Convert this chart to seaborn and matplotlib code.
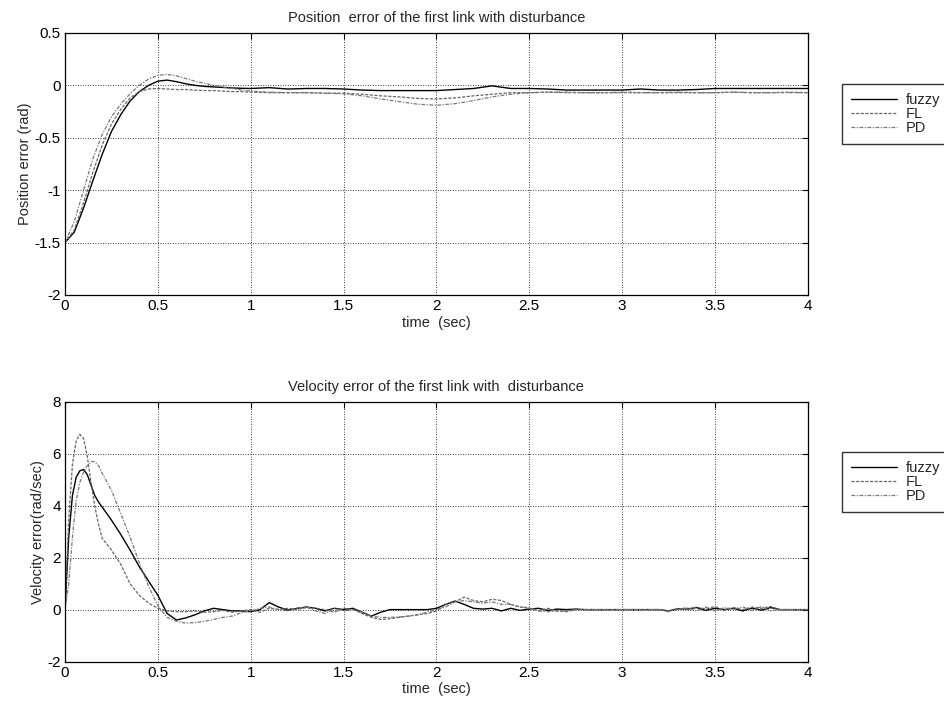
import numpy as np
import pandas as pd
import seaborn as sns
from matplotlib import pyplot as plt

# данные: ошибка положения (верхний график)
t_pos = [0.0, 0.05, 0.1, 0.15, 0.2, 0.25, 0.3, 0.35, 0.4, 0.45, 0.5, 0.55, 0.6, 0.65, 0.7,
         0.75, 0.8, 0.85, 0.9, 0.95, 1.0, 1.1, 1.2, 1.3, 1.4, 1.5, 1.6, 1.7, 1.8, 1.9, 2.0,
         2.1, 2.2, 2.3, 2.4, 2.5, 2.6, 2.7, 2.8, 2.9, 3.0, 3.1, 3.2, 3.3, 3.4, 3.5, 3.6, 3.7,
         3.8, 3.9, 4.0]
pos_fuzzy = [-1.5, -1.4, -1.17, -0.91, -0.66, -0.44, -0.28, -0.15, -0.06, 0.0, 0.04, 0.05,
             0.035, 0.015, 0.0, -0.01, -0.015, -0.02, -0.025, -0.028, -0.03, -0.022, -0.035,
             -0.03, -0.03, -0.035, -0.045, -0.05, -0.05, -0.05, -0.05, -0.04, -0.03, -0.005,
             -0.03, -0.03, -0.035, -0.045, -0.045, -0.045, -0.045, -0.035, -0.045, -0.045,
             -0.04, -0.03, -0.03, -0.03, -0.03, -0.03, -0.03]
pos_fl = [-1.5, -1.38, -1.12, -0.83, -0.57, -0.37, -0.23, -0.12, -0.06, -0.035, -0.03, -0.035,
          -0.04, -0.04, -0.045, -0.05, -0.05, -0.055, -0.06, -0.06, -0.065, -0.07, -0.07,
          -0.07, -0.075, -0.075, -0.085, -0.1, -0.11, -0.125, -0.13, -0.12, -0.1, -0.085,
          -0.07, -0.07, -0.065, -0.07, -0.07, -0.07, -0.07, -0.07, -0.07, -0.07, -0.07,
          -0.07, -0.065, -0.07, -0.07, -0.065, -0.07]
pos_pd = [-1.5, -1.3, -1.0, -0.7, -0.47, -0.3, -0.18, -0.08, 0.0, 0.06, 0.095, 0.105,
          0.09, 0.065, 0.04, 0.02, 0.0, -0.015, -0.03, -0.045, -0.055, -0.065, -0.07, -0.07,
          -0.075, -0.08, -0.1, -0.13, -0.155, -0.18, -0.19, -0.175, -0.145, -0.11, -0.085,
          -0.07, -0.065, -0.065, -0.07, -0.07, -0.065, -0.07, -0.07, -0.065, -0.07, -0.07,
          -0.065, -0.07, -0.07, -0.07, -0.07]

# данные: ошибка скорости (нижний график)
t_vel = [0.0, 0.02, 0.04, 0.06, 0.08, 0.1, 0.12, 0.14, 0.16, 0.18, 0.2, 0.25, 0.3, 0.35,
         0.4, 0.45, 0.5, 0.55, 0.6, 0.65, 0.7, 0.75, 0.8, 0.85, 0.9, 0.95, 1.0, 1.05, 1.1,
         1.15, 1.2, 1.25, 1.3, 1.35, 1.4, 1.45, 1.5, 1.55, 1.6, 1.65, 1.7, 1.75, 1.8, 1.85,
         1.9, 1.95, 2.0, 2.05, 2.1, 2.15, 2.2, 2.25, 2.3, 2.35, 2.4, 2.45, 2.5, 2.55, 2.6,
         2.65, 2.7, 2.75, 2.8, 2.85, 2.9, 2.95, 3.0, 3.05, 3.1, 3.15, 3.2, 3.25, 3.3, 3.35,
         3.4, 3.45, 3.5, 3.55, 3.6, 3.65, 3.7, 3.75, 3.8, 3.85, 3.9, 3.95, 4.0]
vel_fuzzy = [0.0, 2.8, 4.4, 5.1, 5.35, 5.4, 5.2, 4.8, 4.4, 4.15, 3.95, 3.45, 2.9, 2.3, 1.65,
             1.1, 0.55, -0.15, -0.4, -0.32, -0.2, -0.05, 0.05, 0.0, -0.05, -0.05, -0.08,
             0.0, 0.27, 0.1, -0.02, 0.05, 0.1, 0.05, -0.05, 0.05, 0.0, 0.05, -0.1, -0.25,
             -0.1, 0.0, 0.0, 0.0, 0.0, 0.0, 0.05, 0.2, 0.33, 0.2, 0.05, 0.02, 0.05, -0.05,
             0.05, -0.03, 0.02, 0.05, -0.03, 0.02, 0.0, 0.02, 0.0, 0.0, 0.0, 0.0, 0.0, 0.0,
             0.0, 0.0, 0.0, -0.05, 0.03, 0.02, 0.08, -0.03, 0.05, 0.0, 0.05, -0.05, 0.06,
             -0.02, 0.08, 0.0, 0.0, 0.0, 0.0]
vel_fl = [0.0, 3.5, 5.6, 6.5, 6.75, 6.6, 5.9, 4.9, 4.0, 3.3, 2.75, 2.3, 1.75, 1.0, 0.55,
          0.25, 0.05, -0.05, -0.08, -0.08, -0.05, -0.1, -0.08, -0.03, -0.1, -0.05, 0.0,
          -0.1, 0.05, 0.0, 0.05, 0.0, 0.08, 0.05, 0.0, -0.1, 0.05, 0.0, -0.15, -0.3, -0.38,
          -0.35, -0.3, -0.25, -0.2, -0.15, -0.05, 0.2, 0.3, 0.48, 0.35, 0.3, 0.4, 0.35, 0.2,
          0.1, 0.05, -0.05, 0.05, -0.05, -0.08, 0.0, 0.0, 0.0, 0.0, 0.0, 0.0, 0.0, 0.0, 0.0,
          0.0, -0.08, 0.05, 0.0, 0.1, 0.02, 0.12, -0.02, 0.08, 0.0, 0.1, 0.05, 0.12, 0.0,
          0.0, 0.0, 0.0]
vel_pd = [0.0, 1.0, 2.8, 4.2, 4.9, 5.3, 5.55, 5.7, 5.7, 5.55, 5.25, 4.6, 3.7, 2.8, 1.8,
          0.9, 0.15, -0.3, -0.45, -0.52, -0.5, -0.45, -0.38, -0.3, -0.25, -0.12, -0.05,
          0.05, 0.1, 0.0, -0.05, 0.05, 0.1, -0.05, -0.15, 0.05, -0.05, 0.0, -0.1, -0.25,
          -0.3, -0.3, -0.28, -0.25, -0.2, -0.1, 0.0, 0.1, 0.3, 0.35, 0.3, 0.25, 0.3, 0.2,
          0.2, 0.1, 0.08, -0.05, -0.08, -0.05, -0.05, 0.0, 0.0, 0.0, 0.0, 0.0, 0.0, 0.0,
          0.0, 0.0, 0.0, -0.05, 0.0, 0.08, -0.05, 0.1, -0.05, 0.08, 0.02, 0.1, -0.03, 0.12,
          -0.05, 0.0, 0.0, 0.0, 0.0]

labels = ['fuzzy', 'FL', 'PD']

sns.set_style('white')
plt.rcParams['font.family'] = ['Liberation Sans', 'DejaVu Sans']
plt.rcParams['axes.unicode_minus'] = False

fig = plt.figure(figsize=(9.45, 7.13), dpi=100)
ax1 = fig.add_axes([0.0688, 0.5863, 0.786, 0.3675])
ax2 = fig.add_axes([0.0688, 0.0722, 0.786, 0.364])

line_kw = [dict(color='black', linestyle='-', linewidth=1.0),
           dict(color='#666666', linestyle=(0, (2.5, 1.2)), linewidth=0.9),
           dict(color='#777777', linestyle=(0, (3, 1.2, 1, 1.2)), linewidth=0.9)]


def draw(ax, t, series, ylim, yticks, title, ylabel, leg_top):
    for y, lab, kw in zip(series, labels, line_kw):
        sns.lineplot(x=t, y=y, ax=ax, label=lab, **kw)
    ax.set_xlim(0, 4)
    ax.set_ylim(*ylim)
    ax.set_xticks([0, 0.5, 1, 1.5, 2, 2.5, 3, 3.5, 4])
    ax.set_xticklabels(['0', '0.5', '1', '1.5', '2', '2.5', '3', '3.5', '4'])
    ax.set_yticks(yticks)
    ax.set_yticklabels([f'{v:g}' for v in yticks])
    ax.grid(True, color='black', linestyle=(0, (1, 2)), linewidth=0.6)
    ax.tick_params(direction='in', length=4, top=True, right=True,
                   labelsize=11, colors='black', width=0.8, pad=3)
    for s in ax.spines.values():
        s.set_color('black')
        s.set_linewidth(0.9)
    ax.set_title(title, fontsize=10.5, pad=8)
    ax.set_xlabel('time  (sec)', fontsize=10.5, labelpad=2)
    ax.set_ylabel(ylabel, fontsize=10.5, labelpad=2)
    leg = ax.legend(loc='upper left', bbox_to_anchor=(0.891, leg_top),
                    bbox_transform=fig.transFigure, fontsize=10.5, frameon=True,
                    fancybox=False, edgecolor='black', labelspacing=0.0,
                    handlelength=3.2, handletextpad=0.6, borderpad=0.6,
                    borderaxespad=0)
    leg.get_frame().set_linewidth(1.0)


draw(ax1, t_pos, [pos_fuzzy, pos_fl, pos_pd], (-2, 0.5), [-2, -1.5, -1, -0.5, 0, 0.5],
     'Position  error of the first link with disturbance', 'Position error (rad)', 0.882)
draw(ax2, t_vel, [vel_fuzzy, vel_fl, vel_pd], (-2, 8), [-2, 0, 2, 4, 6, 8],
     'Velocity error of the first link with  disturbance', 'Velocity error(rad/sec)', 0.366)

fig.savefig('out.png', dpi=100)
